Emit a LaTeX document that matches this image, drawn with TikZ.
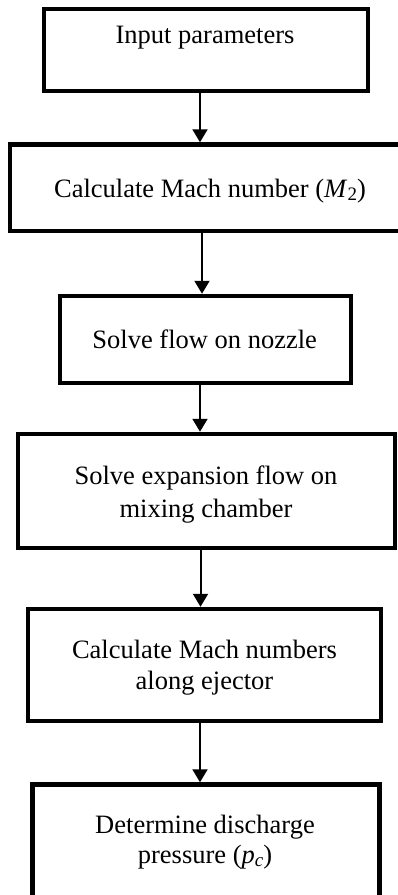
\documentclass[tikz,border=0pt]{standalone}
\usepackage{fontspec}
\setmainfont{Liberation Serif}
\usetikzlibrary{arrows.meta}

\newcommand{\lowsub}[1]{\raisebox{-0.32ex}{\fontsize{19}{19}\selectfont #1}}

\tikzset{
  stepbox/.style={draw=black, line width=4.5pt, fill=white, inner sep=0pt},
  steptext/.style={anchor=base, inner sep=0pt, font=\fontsize{26.5}{32}\selectfont},
  flow/.style={draw=black, line width=2pt, -{Triangle[width=15pt,length=13pt]}},
}

\begin{document}
\begin{tikzpicture}[x=1pt, y=1pt]
  \useasboundingbox (0,0) rectangle (398,-895);
  \clip (0,0) rectangle (398,-895);

  % process boxes
  \node[stepbox, minimum width=324pt, minimum height=82pt]   (b1) at (206,-50)    {};
  \node[stepbox, minimum width=394pt, minimum height=86.5pt] (b2) at (207,-187.75) {};
  \node[stepbox, minimum width=291pt, minimum height=87pt]   (b3) at (205.5,-339.5) {};
  \node[stepbox, minimum width=377pt, minimum height=114pt]  (b4) at (206.5,-491) {};
  \node[stepbox, minimum width=353pt, minimum height=112pt]  (b5) at (204.5,-665) {};
  \node[stepbox, minimum width=347pt, minimum height=117.5pt] (b6) at (206,-843.25) {};

  % box labels
  \node[steptext] (t1)  at (205,-43)  {Input parameters};
  \node[steptext] (t2)  at (210,-197) {Calculate Mach number (\textit{M}\lowsub{2})};
  \node[steptext] (t3)  at (204.7,-348) {Solve flow on nozzle};
  \node[steptext] (t4a) at (206,-484) {Solve expansion flow on};
  \node[steptext] (t4b) at (206,-517) {mixing chamber};
  \node[steptext] (t5a) at (204.5,-658) {Calculate Mach numbers};
  \node[steptext] (t5b) at (204.5,-689) {along ejector};
  \node[steptext] (t6a) at (205,-833) {Determine discharge};
  \node[steptext] (t6b) at (205,-863) {pressure (\textit{p}\lowsub{\textit{c}})};

  % connectors
  \coordinate (ax)  at (200,0);
  \coordinate (axb) at (202,0);
  \coordinate (axc) at (200.5,0);
  \draw[flow] (b1.south -| ax)  -- (b2.north -| ax);
  \draw[flow] (b2.south -| axb) -- (b3.north -| axb);
  \draw[flow] (b3.south -| ax)  -- (b4.north -| ax);
  \draw[flow] (b4.south -| axc) -- (b5.north -| axc);
  \draw[flow] (b5.south -| ax)  -- (b6.north -| ax);
\end{tikzpicture}
\end{document}
